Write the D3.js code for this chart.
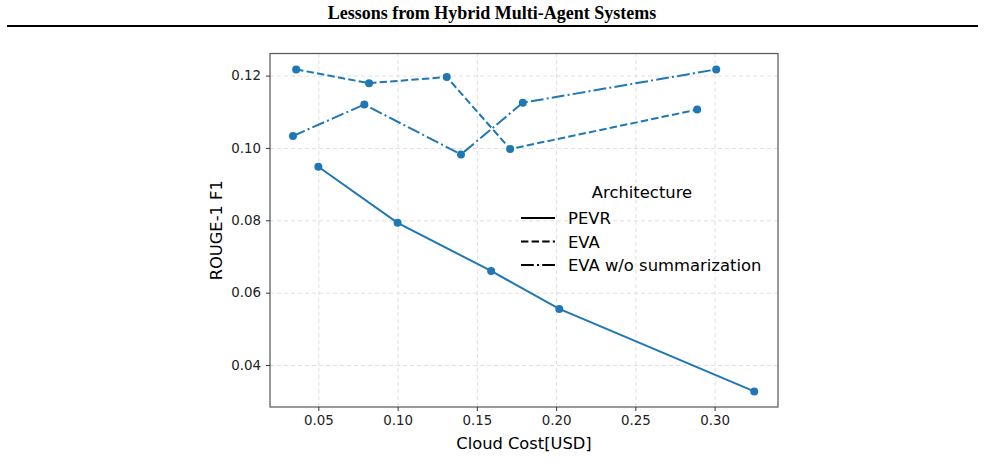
<!DOCTYPE html>
<html>
<head>
<meta charset="utf-8">
<script src="https://cdn.jsdelivr.net/npm/d3@7"></script>
<style>
  body { margin: 0; background: #fff; }
  svg { display: block; }
  .tick text { font-family: 'DejaVu Sans', sans-serif; font-size: 13.4px; fill: #222; }
  .grid line { stroke: #e0e0e0; stroke-dasharray: 4,3; }
  .grid .domain { display: none; }
</style>
</head>
<body>
<div id="chart"></div>
<script>
// data
let pevrCost = [0.050, 0.100, 0.159, 0.202, 0.325];
let pevrScore = [0.0948, 0.0793, 0.0660, 0.0555, 0.0327];
let evaCost = [0.036, 0.082, 0.131, 0.171, 0.289];
let evaScore = [0.1217, 0.1179, 0.1196, 0.0997, 0.1106];
let evaNoSumCost = [0.034, 0.079, 0.140, 0.179, 0.301];
let evaNoSumScore = [0.1033, 0.1120, 0.0982, 0.1125, 0.1217];
let xTicks = [0.05, 0.10, 0.15, 0.20, 0.25, 0.30];
let yTicks = [0.04, 0.06, 0.08, 0.10, 0.12];
let seriesNames = ['PEVR', 'EVA', 'EVA w/o summarization'];

let width = 985, height = 476;
let margin = { left: 270, right: 207, top: 53.5, bottom: 69 };
let color = '#1f77b4';
let dashes = ['none', '7.4,3.2', '12.8,3.2,2,3.2'];

let svg = d3.select('#chart').append('svg')
  .attr('width', width)
  .attr('height', height);

// page header
svg.append('text')
   .attr('x', 492).attr('y', 19)
   .attr('text-anchor', 'middle')
   .style('font-family', "'Liberation Serif', 'Times New Roman', serif")
   .style('font-weight', 'bold')
   .style('font-size', '18px')
   .text('Lessons from Hybrid Multi-Agent Systems');
svg.append('line')
   .attr('x1', 7).attr('x2', 978).attr('y1', 26).attr('y2', 26)
   .style('stroke', '#000').style('stroke-width', 2);

let xScale = d3.scaleLinear()
               .domain([0.0195, 0.340])
               .range([margin.left, width - margin.right]);
let yScale = d3.scaleLinear()
               .domain([0.0284, 0.1261])
               .range([height - margin.bottom, margin.top]);

// gridlines
svg.append('g')
   .attr('class', 'grid')
   .attr('transform', `translate(0, ${height - margin.bottom})`)
   .call(d3.axisBottom(xScale).tickValues(xTicks).tickSize(-(height - margin.bottom - margin.top)).tickFormat(''));
svg.append('g')
   .attr('class', 'grid')
   .attr('transform', `translate(${margin.left}, 0)`)
   .call(d3.axisLeft(yScale).tickValues(yTicks).tickSize(-(width - margin.right - margin.left)).tickFormat(''));

// frame
svg.append('rect')
   .attr('x', margin.left).attr('y', margin.top)
   .attr('width', width - margin.right - margin.left)
   .attr('height', height - margin.bottom - margin.top)
   .style('fill', 'none').style('stroke', '#555').style('stroke-width', 1.2);

// axes
let xAxis = svg.append('g')
   .attr('transform', `translate(0, ${height - margin.bottom})`)
   .call(d3.axisBottom(xScale).tickValues(xTicks).tickSize(4).tickPadding(4).tickFormat(d3.format('.2f')));
let yAxis = svg.append('g')
   .attr('transform', `translate(${margin.left}, 0)`)
   .call(d3.axisLeft(yScale).tickValues(yTicks).tickSize(4).tickPadding(5).tickFormat(d3.format('.2f')));
[xAxis, yAxis].forEach(a => {
  a.select('.domain').remove();
  a.selectAll('.tick line').style('stroke', '#333');
});

// axis titles
svg.append('text')
   .attr('x', (margin.left + width - margin.right) / 2).attr('y', 448.5)
   .attr('text-anchor', 'middle')
   .style('font-family', "'DejaVu Sans', sans-serif").style('font-size', '16.3px')
   .text('Cloud Cost[USD]');
svg.append('text')
   .attr('transform', `translate(222, ${(margin.top + height - margin.bottom) / 2}) rotate(-90)`)
   .attr('text-anchor', 'middle')
   .style('font-family', "'DejaVu Sans', sans-serif").style('font-size', '16.3px')
   .text('ROUGE-1 F1');

// series
let series = [
  { xs: pevrCost, ys: pevrScore },
  { xs: evaCost, ys: evaScore },
  { xs: evaNoSumCost, ys: evaNoSumScore }
];
let line = d3.line().x(d => xScale(d[0])).y(d => yScale(d[1]));

series.forEach((s, i) => {
  let pts = s.xs.map((x, j) => [x, s.ys[j]]);
  svg.append('path')
     .datum(pts)
     .attr('d', line)
     .style('fill', 'none')
     .style('stroke', color)
     .style('stroke-width', 2)
     .style('stroke-dasharray', dashes[i]);
  svg.selectAll(null)
     .data(pts)
     .enter()
     .append('circle')
     .attr('cx', d => xScale(d[0]))
     .attr('cy', d => yScale(d[1]))
     .attr('r', 4)
     .style('fill', color);
});

// legend
let legend = svg.append('g').attr('transform', 'translate(521, 0)');
legend.append('text')
      .attr('x', 121).attr('y', 198)
      .attr('text-anchor', 'middle')
      .style('font-family', "'DejaVu Sans', sans-serif").style('font-size', '16.4px')
      .text('Architecture');
seriesNames.forEach((name, i) => {
  let y = 218 + i * 23.5;
  legend.append('line')
        .attr('x1', 0).attr('x2', 34).attr('y1', y).attr('y2', y)
        .style('stroke', '#000').style('stroke-width', 2)
        .style('stroke-dasharray', dashes[i]);
  legend.append('text')
        .attr('x', 47).attr('y', y + 6)
        .style('font-family', "'DejaVu Sans', sans-serif").style('font-size', '16.4px')
        .text(name);
});
</script>
</body>
</html>
